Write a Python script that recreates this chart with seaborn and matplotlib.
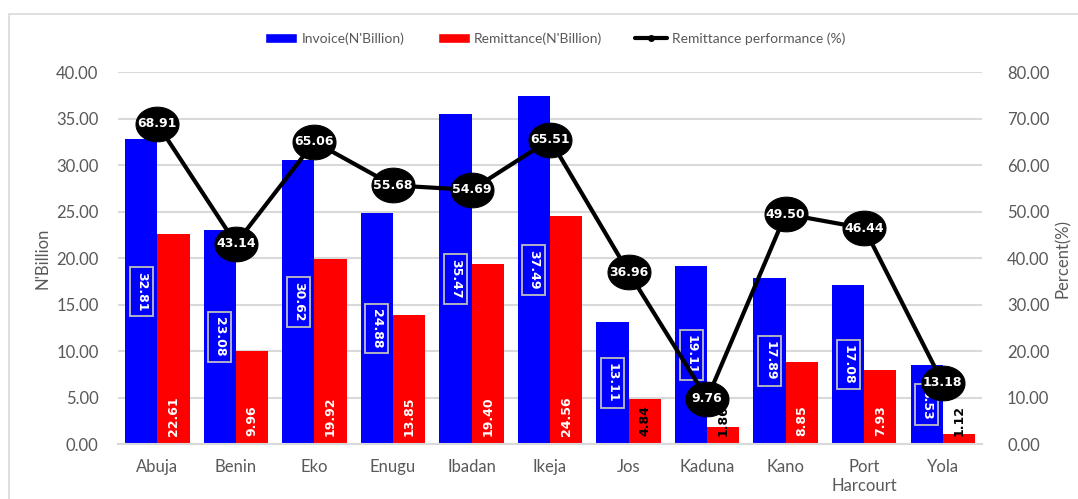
import numpy as np
import pandas as pd
import matplotlib
matplotlib.use("Agg")
import matplotlib.pyplot as plt
from matplotlib.patches import Patch, Rectangle
from matplotlib.lines import Line2D
from matplotlib.path import Path
import seaborn as sns

# Revenue figures per office
offices = ["Abuja", "Benin", "Eko", "Enugu", "Ibadan", "Ikeja", "Jos",
           "Kaduna", "Kano", "Port\nHarcourt", "Yola"]
invoice = [32.81, 23.08, 30.62, 24.88, 35.47, 37.49, 13.11, 19.11, 17.89, 17.08, 8.53]
remittance = [22.61, 9.96, 19.92, 13.85, 19.40, 24.56, 4.84, 1.86, 8.85, 7.93, 1.12]
performance = [68.91, 43.14, 65.06, 55.68, 54.69, 65.51, 36.96, 9.76, 49.50, 46.44, 13.18]

left_ticks = [0, 5, 10, 15, 20, 25, 30, 35, 40]
right_ticks = [0, 10, 20, 30, 40, 50, 60, 70, 80]

INV_NAME = "Invoice(N'Billion)"
REM_NAME = "Remittance(N'Billion)"
PERF_NAME = "Remittance performance (%)"

sns.set_theme(style="white")
plt.rcParams["font.family"] = ["Lato", "DejaVu Sans"]

grey_txt = "#595959"
grid_col = "#d9d9d9"

df = pd.DataFrame({
    "office": offices * 2,
    "value": invoice + remittance,
    "series": [INV_NAME] * len(offices) + [REM_NAME] * len(offices),
})

fig = plt.figure(figsize=(10.78, 4.99), dpi=100)
ax = fig.add_axes([0.1095, 0.1102, 0.8015, 0.7448])

group_w = 0.82
sns.barplot(data=df, x="office", y="value", hue="series", order=offices,
            hue_order=[INV_NAME, REM_NAME],
            palette={INV_NAME: "#0000ff", REM_NAME: "#ff0000"},
            width=group_w, gap=0, linewidth=0, saturation=1,
            errorbar=None, legend=False, ax=ax, zorder=2)

ax.set_ylim(0, 40)
ax.set_yticks(left_ticks)
ax.set_yticklabels([f"{t:.2f}" for t in left_ticks], fontsize=12, color=grey_txt)
ax.set_xlim(-0.5, len(offices) - 0.5)
ax.tick_params(axis="x", labelsize=12, colors=grey_txt, length=0, pad=11)
ax.tick_params(axis="y", length=0, pad=14)
ax.set_xlabel("")
ax.set_ylabel("N'Billion", fontsize=12, color=grey_txt, labelpad=4)
ax.yaxis.grid(True, color=grid_col, linewidth=1.5, zorder=0)
ax.set_axisbelow(True)
for s in ["top", "right", "left"]:
    ax.spines[s].set_visible(False)
ax.spines["bottom"].set_color(grid_col)
ax.spines["bottom"].set_linewidth(1.5)

half = group_w / 4
x = np.arange(len(offices))

# Invoice values: centred in the bar, boxed, reading downwards
for xi, v in zip(x, invoice):
    ax.text(xi - half, v / 2, f"{v:.2f}", rotation=270, ha="center", va="center",
            color="white", fontsize=9, fontweight="bold", family="DejaVu Sans",
            zorder=5,
            bbox=dict(boxstyle="square,pad=0.4", fc="none", ec="#bfbfbf", lw=1.3))

# Remittance values: at the base of the bar, reading upwards
for xi, v in zip(x, remittance):
    ax.text(xi + half, 0.9, f"{v:.2f}", rotation=90, ha="center", va="bottom",
            color="white" if v > 6 else "black", fontsize=9, fontweight="bold",
            family="DejaVu Sans", zorder=5)

# Performance line on the secondary axis
ax2 = ax.twinx()
theta = np.linspace(0, 2 * np.pi, 60)
ellipse = Path(np.column_stack([1.24 * np.cos(theta), np.sin(theta)]))
sns.lineplot(x=x, y=performance, ax=ax2, color="black", linewidth=3,
             marker=ellipse, markersize=31, markerfacecolor="black",
             markeredgecolor="black", zorder=6)
for xi, p in zip(x, performance):
    ax2.text(xi, p, f"{p:.2f}", ha="center", va="center", color="white",
             fontsize=9, fontweight="bold", family="DejaVu Sans", zorder=7)
ax2.set_ylim(0, 80)
ax2.set_yticks(right_ticks)
ax2.set_yticklabels([f"{t:.2f}" for t in right_ticks], fontsize=12, color=grey_txt)
ax2.tick_params(axis="y", length=0, pad=18)
ax2.set_ylabel("Percent(%)", fontsize=12, color=grey_txt, labelpad=4)
for s in ax2.spines.values():
    s.set_visible(False)
ax2.grid(False)

handles = [
    Patch(facecolor="#0000ff", label=INV_NAME),
    Patch(facecolor="#ff0000", label=REM_NAME),
    Line2D([0], [0], color="black", lw=3, marker="o", markersize=4, label=PERF_NAME),
]
leg = fig.legend(handles=handles, loc="center", bbox_to_anchor=(0.515, 0.923),
                 ncol=3, frameon=False, fontsize=10, handlelength=2.3,
                 handleheight=0.7, columnspacing=2.4, handletextpad=0.3)
for t in leg.get_texts():
    t.set_color(grey_txt)

# Chart area outline
fig.patches.append(Rectangle((0.0083, -0.1), 1.2, 1.072, transform=fig.transFigure,
                             fill=False, edgecolor=grid_col, linewidth=1.2))

fig.savefig("out.png", dpi=100)
